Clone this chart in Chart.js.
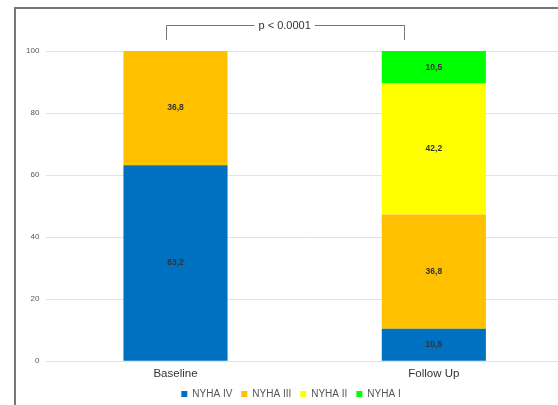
<!DOCTYPE html>
<html>
<head>
<meta charset="utf-8">
<script src="https://cdn.jsdelivr.net/npm/chart.js@4/dist/chart.umd.min.js"></script>
<style>
  html, body { margin: 0; padding: 0; background: #fff; overflow: hidden; }
  body { width: 558px; height: 405px; position: relative; }
  #frame { position: absolute; left: 14px; top: 7px; width: 560px; height: 410px;
           border-left: 2px solid #777; border-top: 2px solid #777; box-sizing: border-box; }
  #wrap { position: absolute; left: 0; top: 0; width: 580px; height: 411px; }
</style>
</head>
<body>
<div id="frame"></div>
<div id="wrap"><canvas id="c"></canvas></div>
<script>
// Categories and NYHA class shares (%)
const categories = ["Baseline", "Follow Up"];
const nyhaIV  = [63.2, 10.5];
const nyhaIII = [36.8, 36.8];
const nyhaII  = [0, 42.2];
const nyhaI   = [0, 10.5];
const yTicks  = [0, 20, 40, 60, 80, 100];
const pLabel  = "p < 0.0001";

const FONT = 'Arial, "Liberation Sans", sans-serif';

// Value labels centred in each stacked segment
const segmentLabels = {
  id: 'segmentLabels',
  afterDatasetsDraw(chart) {
    const ctx = chart.ctx;
    ctx.save();
    ctx.font = 'bold 8.5px ' + FONT;
    ctx.fillStyle = '#333';
    ctx.textAlign = 'center';
    ctx.textBaseline = 'middle';
    chart.data.datasets.forEach((ds, i) => {
      const meta = chart.getDatasetMeta(i);
      meta.data.forEach((bar, j) => {
        const v = ds.data[j];
        if (!v) return;
        const y = (bar.y + bar.base) / 2;
        ctx.fillText(v.toFixed(1).replace('.', ','), bar.x, y);
      });
    });
    ctx.restore();
  }
};

// Significance bracket between the two groups
const bracket = {
  id: 'bracket',
  afterDraw(chart) {
    const ctx = chart.ctx;
    const xs = chart.scales.x;
    const top = chart.chartArea.top;
    const x1 = xs.getPixelForValue(0) - 10;
    const x2 = xs.getPixelForValue(1) - 30;
    const yTop = top - 26 + 0.5;
    const yBot = top - 11;
    const xm = (x1 + x2) / 2;
    ctx.save();
    ctx.font = '11px ' + FONT;
    const tw = ctx.measureText(pLabel).width;
    ctx.strokeStyle = '#777';
    ctx.lineWidth = 1;
    ctx.beginPath();
    ctx.moveTo(Math.round(x1) + 0.5, yBot);
    ctx.lineTo(Math.round(x1) + 0.5, yTop);
    ctx.lineTo(xm - tw / 2 - 4, yTop);
    ctx.moveTo(xm + tw / 2 + 4, yTop);
    ctx.lineTo(Math.round(x2) + 0.5, yTop);
    ctx.lineTo(Math.round(x2) + 0.5, yBot);
    ctx.stroke();
    ctx.fillStyle = '#333';
    ctx.textAlign = 'center';
    ctx.textBaseline = 'middle';
    ctx.fillText(pLabel, xm, yTop);
    ctx.restore();
  }
};

const mk = (label, data, color) => ({
  label, data, backgroundColor: color, borderWidth: 0,
  categoryPercentage: 1.0, barPercentage: 0.403
});

new Chart(document.getElementById('c'), {
  type: 'bar',
  data: {
    labels: categories,
    datasets: [
      mk('NYHA IV', nyhaIV, '#0070C0'),
      mk('NYHA III', nyhaIII, '#FFC000'),
      mk('NYHA II', nyhaII, '#FFFF00'),
      mk('NYHA I', nyhaI, '#00FF00')
    ]
  },
  options: {
    responsive: true,
    maintainAspectRatio: false,
    animation: false,
    layout: { padding: { left: 19, top: 51, right: 17, bottom: 2 } },
    plugins: {
      tooltip: { enabled: false },
      legend: {
        position: 'bottom',
        labels: {
          boxWidth: 6, boxHeight: 6, padding: 9,
          color: '#555',
          font: { size: 10, family: FONT }
        }
      }
    },
    scales: {
      x: {
        stacked: true,
        grid: { display: false, drawTicks: false },
        border: { display: false },
        ticks: { color: '#333', padding: 6, font: { size: 11.5, family: FONT } },
        afterFit(axis) { axis.height -= 7; }
      },
      y: {
        stacked: true,
        min: 0, max: 100,
        afterBuildTicks(axis) { axis.ticks = yTicks.map(v => ({ value: v })); },
        grid: { color: '#e2e2e2', drawTicks: false },
        border: { display: false },
        ticks: { color: '#555', padding: 7, font: { size: 8, family: FONT } }
      }
    }
  },
  plugins: [segmentLabels, bracket]
});
</script>
</body>
</html>
